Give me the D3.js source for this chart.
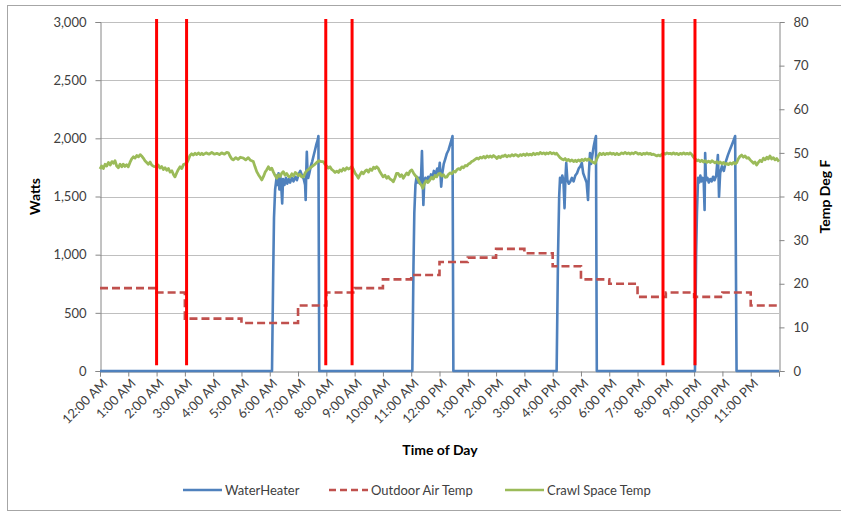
<!DOCTYPE html>
<html>
<head>
<meta charset="utf-8">
<script src="https://cdn.jsdelivr.net/npm/d3@7"></script>
<style>
  body { margin: 0; background: #fff; }
  text { font-family: Lato, "Liberation Sans", sans-serif; fill: #404040; }
  .axistitle { font-weight: bold; font-size: 14px; fill: #000; }
  .ticklabel { font-size: 13px; }
  .legendlabel { font-size: 13px; fill: #404040; }
</style>
</head>
<body>
<div id="chart"></div>
<script>
// hour labels along the bottom
const hourLabels = ['12:00 AM','1:00 AM','2:00 AM','3:00 AM','4:00 AM','5:00 AM','6:00 AM','7:00 AM',
  '8:00 AM','9:00 AM','10:00 AM','11:00 AM','12:00 PM','1:00 PM','2:00 PM','3:00 PM','4:00 PM',
  '5:00 PM','6:00 PM','7:00 PM','8:00 PM','9:00 PM','10:00 PM','11:00 PM'];

const wattTicks = [0,500,1000,1500,2000,2500,3000];
const tempTicks = [0,10,20,30,40,50,60,70,80];

// [hour of day, watts]
const waterHeater = [
  [0,0],[6.08,0],[6.12,800],[6.15,1315],[6.19,1560],[6.22,1620],[6.25,1680],[6.28,1600],[6.31,1700],
  [6.34,1560],[6.37,1680],[6.40,1620],[6.44,1440],[6.47,1650],[6.52,1600],[6.57,1660],[6.62,1610],
  [6.67,1650],[6.72,1620],[6.78,1660],[6.84,1630],[6.90,1670],[6.96,1640],[7.02,1690],[7.08,1720],
  [7.14,1680],[7.20,1650],[7.25,1600],[7.27,1470],[7.29,1700],[7.31,1885],[7.33,1750],[7.36,1660],
  [7.40,1700],[7.45,1760],[7.50,1800],[7.55,1850],[7.60,1900],[7.65,1950],[7.70,1990],[7.72,2020],[7.75,0],
  [11.04,0],[11.08,900],[11.11,1358],[11.15,1600],[11.19,1670],[11.23,1620],[11.27,1660],[11.31,1610],
  [11.35,1680],[11.38,1890],[11.41,1600],[11.43,1427],[11.46,1620],[11.50,1660],[11.55,1630],[11.60,1670],
  [11.65,1640],[11.70,1690],[11.75,1660],[11.80,1720],[11.86,1690],[11.92,1740],[11.97,1700],[12.01,1790],
  [12.06,1585],[12.10,1700],[12.15,1780],[12.20,1820],[12.26,1870],[12.32,1900],[12.38,1950],[12.43,1990],
  [12.46,2020],[12.49,0],
  [16.14,0],[16.19,1000],[16.23,1500],[16.26,1660],[16.30,1620],[16.34,1680],[16.38,1640],[16.42,1400],
  [16.45,1650],[16.48,1790],[16.52,1640],[16.57,1610],[16.62,1627],[16.68,1660],[16.74,1630],[16.80,1680],
  [16.86,1700],[16.92,1740],[16.98,1760],[17.03,1788],[17.08,1700],[17.14,1660],[17.20,1620],[17.25,1470],
  [17.28,1700],[17.32,1874],[17.36,1780],[17.40,1850],[17.45,1930],[17.50,1990],[17.53,2020],[17.56,0],
  [21.03,0],[21.07,1000],[21.10,1358],[21.14,1660],[21.18,1620],[21.22,1680],[21.26,1630],[21.30,1660],
  [21.34,1620],[21.37,1384],[21.39,1874],[21.42,1640],[21.47,1660],[21.52,1620],[21.57,1650],[21.62,1630],
  [21.67,1670],[21.72,1640],[21.78,1680],[21.84,1857],[21.86,1700],[21.88,1498],[21.92,1700],[21.98,1760],
  [22.05,1720],[22.12,1800],[22.20,1860],[22.28,1910],[22.36,1960],[22.42,2000],[22.45,2020],[22.50,0],[24,0]
];

// outdoor air temp, one value per hour (deg F)
const outdoorTemp = [19,19,18,12,12,11,11,15,18,19,21,22,25,26,28,27,24,21,20,17,18,17,18,15];

// [hour of day, deg F]
const crawlTemp = [
  [0.00,46.3],[0.06,47.0],[0.12,46.4],[0.18,47.4],[0.24,47.0],[0.30,47.8],[0.36,47.2],[0.42,48.0],[0.48,47.6],
  [0.53,48.2],[0.59,47.0],[0.65,46.6],[0.71,47.4],[0.77,46.8],[0.82,47.4],[0.88,46.9],[0.94,47.3],[1.00,46.8],
  [1.06,47.8],[1.12,48.6],[1.18,49.1],[1.24,48.8],[1.30,49.4],[1.36,49.1],[1.42,49.6],[1.47,49.3],[1.53,48.8],
  [1.59,48.2],[1.65,47.8],[1.71,47.4],[1.77,47.9],[1.83,47.2],[1.90,46.9],[2.00,46.8],[2.06,47.2],[2.12,46.5],
  [2.18,46.9],[2.24,46.2],[2.30,46.6],[2.36,46.0],[2.42,46.4],[2.48,45.6],[2.54,45.9],[2.60,45.0],[2.65,44.5],
  [2.71,45.4],[2.77,46.2],[2.83,46.8],[2.89,46.4],[2.95,47.3],[3.06,47.6],[3.12,48.4],[3.18,49.4],[3.24,49.8],
  [3.30,49.5],[3.36,49.9],[3.42,49.6],[3.48,50.0],[3.54,49.6],[3.60,49.9],[3.65,49.6],[3.75,50.0],[3.85,49.7],
  [3.95,50.1],[4.05,49.7],[4.13,49.9],[4.22,49.6],[4.30,50.0],[4.40,49.7],[4.48,50.1],[4.54,50.0],[4.60,49.2],
  [4.66,48.6],[4.71,48.4],[4.80,48.9],[4.88,48.5],[4.96,49.0],[5.07,48.8],[5.15,48.4],[5.24,48.9],[5.32,48.3],
  [5.42,48.0],[5.48,46.8],[5.54,45.7],[5.60,45.0],[5.66,44.4],[5.72,43.8],[5.78,44.6],[5.84,45.6],[5.89,46.1],
  [5.95,46.8],[6.01,46.2],[6.07,46.5],[6.13,45.6],[6.19,44.8],[6.25,44.2],[6.31,45.0],[6.37,44.6],[6.43,45.4],
  [6.48,45.7],[6.54,44.9],[6.60,45.3],[6.66,44.6],[6.72,44.5],[6.78,45.2],[6.84,44.7],[6.90,45.5],[6.95,45.3],
  [7.01,44.8],[7.07,45.1],[7.13,44.5],[7.19,44.5],[7.25,45.4],[7.31,45.9],[7.37,46.2],[7.42,46.5],[7.50,46.9],
  [7.58,47.3],[7.66,47.8],[7.74,48.2],[7.82,48.0],[7.89,48.0],[7.95,47.4],[8.01,47.0],[8.07,46.5],[8.13,46.8],
  [8.19,46.2],[8.25,45.9],[8.31,45.5],[8.37,45.8],[8.43,45.5],[8.48,46.1],[8.54,45.8],[8.60,46.4],[8.66,46.0],
  [8.72,46.6],[8.78,46.3],[8.84,46.5],[8.90,46.9],[8.96,46.2],[9.02,45.3],[9.08,44.8],[9.13,44.2],[9.19,45.0],
  [9.25,45.6],[9.31,45.2],[9.37,45.8],[9.43,46.1],[9.49,45.6],[9.55,46.3],[9.61,46.0],[9.67,46.7],[9.72,46.4],
  [9.78,46.8],[9.84,46.4],[9.90,45.6],[9.96,45.0],[10.01,44.5],[10.07,44.9],[10.13,44.2],[10.19,44.6],[10.25,44.0],
  [10.31,43.8],[10.37,43.4],[10.43,44.3],[10.48,45.3],[10.54,45.3],[10.60,44.6],[10.66,45.0],[10.72,44.2],
  [10.78,44.8],[10.84,45.4],[10.90,45.0],[10.96,45.8],[11.02,46.1],[11.08,45.4],[11.14,44.8],[11.20,44.4],
  [11.25,43.8],[11.31,43.0],[11.36,42.6],[11.41,41.9],[11.47,43.0],[11.53,43.6],[11.59,43.2],[11.66,43.8],
  [11.72,44.4],[11.78,44.0],[11.84,44.8],[11.90,44.5],[11.96,45.2],[12.02,45.3],[12.08,44.7],[12.14,45.0],
  [12.20,44.4],[12.26,44.5],[12.32,45.1],[12.38,45.4],[12.44,45.2],[12.50,45.8],[12.56,45.6],[12.61,46.1],
  [12.67,46.4],[12.73,46.2],[12.79,46.8],[12.85,46.6],[12.91,47.1],[12.97,47.0],[13.03,47.5],[13.08,47.6],
  [13.14,48.0],[13.20,48.2],[13.26,48.5],[13.32,48.8],[13.38,48.6],[13.44,49.0],[13.50,48.8],[13.56,49.2],
  [13.62,48.8],[13.68,49.3],[13.74,49.0],[13.79,49.3],[13.85,49.0],[13.91,49.4],[13.97,49.1],[14.03,48.7],
  [14.09,49.2],[14.15,48.9],[14.21,49.3],[14.26,49.2],[14.32,49.5],[14.38,49.1],[14.44,49.4],[14.50,49.2],
  [14.56,49.6],[14.62,49.3],[14.68,49.6],[14.73,49.5],[14.79,49.2],[14.85,49.6],[14.91,49.4],[14.97,49.7],
  [15.03,49.4],[15.09,49.8],[15.15,49.5],[15.20,49.7],[15.26,49.5],[15.32,49.9],[15.38,49.6],[15.44,49.9],
  [15.50,49.7],[15.56,50.1],[15.62,49.8],[15.68,50.0],[15.74,49.7],[15.79,50.0],[15.85,49.8],[15.91,50.1],
  [15.97,49.8],[16.03,50.0],[16.09,49.7],[16.14,49.9],[16.20,49.4],[16.26,48.9],[16.32,48.6],[16.38,48.4],
  [16.44,48.7],[16.50,48.2],[16.56,48.5],[16.62,48.1],[16.68,48.4],[16.74,48.0],[16.80,48.3],[16.85,48.0],
  [16.91,48.4],[16.97,48.1],[17.03,48.5],[17.09,48.2],[17.15,48.6],[17.21,48.3],[17.27,48.6],[17.32,48.4],
  [17.38,48.0],[17.44,47.8],[17.50,47.6],[17.56,48.6],[17.62,49.4],[17.67,49.9],[17.73,49.6],[17.79,49.9],
  [17.85,49.6],[17.91,49.9],[17.97,49.7],[18.03,50.0],[18.09,49.7],[18.15,49.9],[18.21,49.6],[18.27,49.9],
  [18.33,49.6],[18.38,49.7],[18.44,50.0],[18.50,49.8],[18.56,50.1],[18.62,49.8],[18.68,50.0],[18.74,49.7],
  [18.80,50.0],[18.86,49.8],[18.92,50.1],[18.97,50.0],[19.03,49.7],[19.09,49.9],[19.15,49.6],[19.21,49.9],
  [19.27,49.7],[19.33,50.0],[19.39,49.7],[19.45,49.9],[19.50,49.6],[19.56,49.7],[19.62,49.5],[19.68,49.3],
  [19.74,49.5],[19.80,49.3],[19.86,49.7],[19.92,49.9],[19.98,49.7],[20.04,50.0],[20.10,49.8],[20.15,49.9],
  [20.21,49.7],[20.27,50.0],[20.33,49.7],[20.39,49.9],[20.45,49.6],[20.51,49.9],[20.57,49.7],[20.63,50.0],
  [20.69,49.7],[20.75,49.9],[20.81,49.7],[20.86,50.0],[20.92,49.6],[20.98,49.0],[21.04,48.6],[21.10,48.2],
  [21.15,48.4],[21.21,48.0],[21.27,48.3],[21.33,47.9],[21.39,48.2],[21.45,47.8],[21.51,48.1],[21.57,47.8],
  [21.63,48.2],[21.68,48.0],[21.74,47.7],[21.80,48.0],[21.86,47.6],[21.92,47.9],[21.98,47.5],[22.04,47.8],
  [22.10,47.4],[22.15,47.6],[22.21,47.3],[22.27,47.7],[22.33,47.4],[22.39,47.8],[22.45,47.5],[22.50,47.7],
  [22.56,48.6],[22.62,49.2],[22.68,49.5],[22.74,49.0],[22.80,49.3],[22.86,48.8],[22.92,48.9],[22.98,48.4],
  [23.04,48.0],[23.10,47.6],[23.15,47.9],[23.21,47.2],[23.27,47.8],[23.33,48.3],[23.39,48.0],[23.45,48.8],
  [23.51,48.4],[23.57,49.0],[23.62,48.6],[23.68,49.3],[23.74,48.6],[23.80,48.9],[23.86,48.4],[23.92,48.7],[24.00,48.0]
];

// red marker lines (hour of day) and their extent in watts
const eventHours = [2.0, 3.06, 7.98, 8.91, 19.9, 21.03];
const eventRange = [50, 3025];

const legendNames = ['WaterHeater','Outdoor Air Temp','Crawl Space Temp'];
const colors = ['#4F81BD','#C0504D','#9BBB59'];

function drawChart(id, w, h) {
    let left = 100, right = 779, top = 22, bottom = 371;

    var svg = d3.select(id)
        .append("svg")
        .attr("width", w)
        .attr("height", h);

    // outer chart frame
    svg.append("rect")
        .attr("x", 7.5).attr("y", 5.5)
        .attr("width", 845).attr("height", 505)
        .attr("fill", "none")
        .attr("stroke", "#a6a6a6");

    var xScale = d3.scaleLinear().domain([0, 24]).range([left, right]);
    var yWatts = d3.scaleLinear().domain([0, 3000]).range([bottom, top]);
    var yTemp = d3.scaleLinear().domain([0, 80]).range([bottom, top]);

    // gridlines
    svg.selectAll("gridline")
        .data(wattTicks.slice(1))
        .enter()
        .append("line")
        .attr("x1", left).attr("x2", right)
        .attr("y1", function(d){ return Math.round(yWatts(d)) + 0.5; })
        .attr("y2", function(d){ return Math.round(yWatts(d)) + 0.5; })
        .attr("stroke", "#bfbfbf")
        .attr("stroke-width", 1);

    var xAxis = d3.axisBottom(xScale)
        .tickValues(d3.range(0, 25))
        .tickSize(5)
        .tickFormat("");
    var yAxisL = d3.axisLeft(yWatts)
        .tickValues(wattTicks)
        .tickSize(5)
        .tickPadding(9)
        .tickFormat(d3.format(","));
    var yAxisR = d3.axisRight(yTemp)
        .tickValues(tempTicks)
        .tickSize(5)
        .tickPadding(9);

    let gx = svg.append("g")
        .attr("transform", "translate(0," + (bottom + 0.5) + ")")
        .call(xAxis);
    let gl = svg.append("g")
        .attr("transform", "translate(" + (left + 0.5) + ",0)")
        .call(yAxisL);
    let gr = svg.append("g")
        .attr("transform", "translate(" + (right + 0.5) + ",0)")
        .call(yAxisR);

    [gx, gl, gr].forEach(function(g){
        g.select(".domain").attr("stroke", "#868686");
        g.selectAll(".tick line").attr("stroke", "#868686");
        g.selectAll(".tick text")
            .attr("class", "ticklabel")
            .attr("fill", "#404040")
            .style("font-family", "Lato, sans-serif")
            .style("font-size", "13px");
    });

    // rotated hour labels
    svg.selectAll("hourlabel")
        .data(hourLabels)
        .enter()
        .append("text")
        .attr("class", "ticklabel")
        .attr("transform", function(d, i){
            return "translate(" + (xScale(i) + 5) + "," + (bottom + 10) + ") rotate(-45)";
        })
        .attr("dy", "0.35em")
        .style("text-anchor", "end")
        .text(function(d){ return d; });

    // water heater
    var lineW = d3.line()
        .x(function(d){ return xScale(d[0]); })
        .y(function(d){ return yWatts(d[1]); });
    svg.append("path")
        .datum(waterHeater)
        .attr("d", lineW)
        .attr("fill", "none")
        .attr("stroke", colors[0])
        .attr("stroke-width", 2.6)
        .attr("stroke-linejoin", "round");

    // outdoor temp steps
    var outdoorPts = outdoorTemp.map(function(v, i){ return [i, v]; });
    outdoorPts.push([24, outdoorTemp[outdoorTemp.length - 1]]);
    var lineO = d3.line()
        .curve(d3.curveStepAfter)
        .x(function(d){ return xScale(d[0]); })
        .y(function(d){ return yTemp(d[1]); });
    svg.append("path")
        .datum(outdoorPts)
        .attr("d", lineO)
        .attr("fill", "none")
        .attr("stroke", colors[1])
        .attr("stroke-width", 2.6)
        .attr("stroke-dasharray", "8,4");

    // crawl space temp
    var lineC = d3.line()
        .x(function(d){ return xScale(d[0]); })
        .y(function(d){ return yTemp(d[1]); });
    svg.append("path")
        .datum(crawlTemp)
        .attr("d", lineC)
        .attr("fill", "none")
        .attr("stroke", colors[2])
        .attr("stroke-width", 2.8)
        .attr("stroke-linejoin", "round");

    // red marker lines
    svg.selectAll("eventline")
        .data(eventHours)
        .enter()
        .append("line")
        .attr("x1", function(d){ return xScale(d); })
        .attr("x2", function(d){ return xScale(d); })
        .attr("y1", yWatts(eventRange[0]))
        .attr("y2", yWatts(eventRange[1]))
        .attr("stroke", "#FF0000")
        .attr("stroke-width", 3);

    // axis titles
    svg.append("text")
        .attr("class", "axistitle")
        .attr("transform", "translate(40," + ((top + bottom) / 2) + ") rotate(-90)")
        .style("text-anchor", "middle")
        .text("Watts");
    svg.append("text")
        .attr("class", "axistitle")
        .attr("transform", "translate(830," + ((top + bottom) / 2) + ") rotate(-90)")
        .style("text-anchor", "middle")
        .text("Temp Deg F");
    svg.append("text")
        .attr("class", "axistitle")
        .attr("x", 440).attr("y", 455)
        .style("text-anchor", "middle")
        .text("Time of Day");

    // legend
    let legendX = [183, 329, 505];
    let legend = svg.selectAll("legenditem")
        .data(legendNames)
        .enter()
        .append("g")
        .attr("transform", function(d, i){ return "translate(" + legendX[i] + ",490)"; });
    legend.append("line")
        .attr("x1", 0).attr("x2", 39)
        .attr("y1", 0).attr("y2", 0)
        .attr("stroke", function(d, i){ return colors[i]; })
        .attr("stroke-width", 2.6)
        .attr("stroke-dasharray", function(d, i){ return i == 1 ? "7,4" : null; });
    legend.append("text")
        .attr("class", "legendlabel")
        .attr("x", 42).attr("y", 0)
        .attr("dy", "0.35em")
        .text(function(d){ return d; });

    return svg;
}

drawChart("#chart", 841, 512);
</script>
</body>
</html>
